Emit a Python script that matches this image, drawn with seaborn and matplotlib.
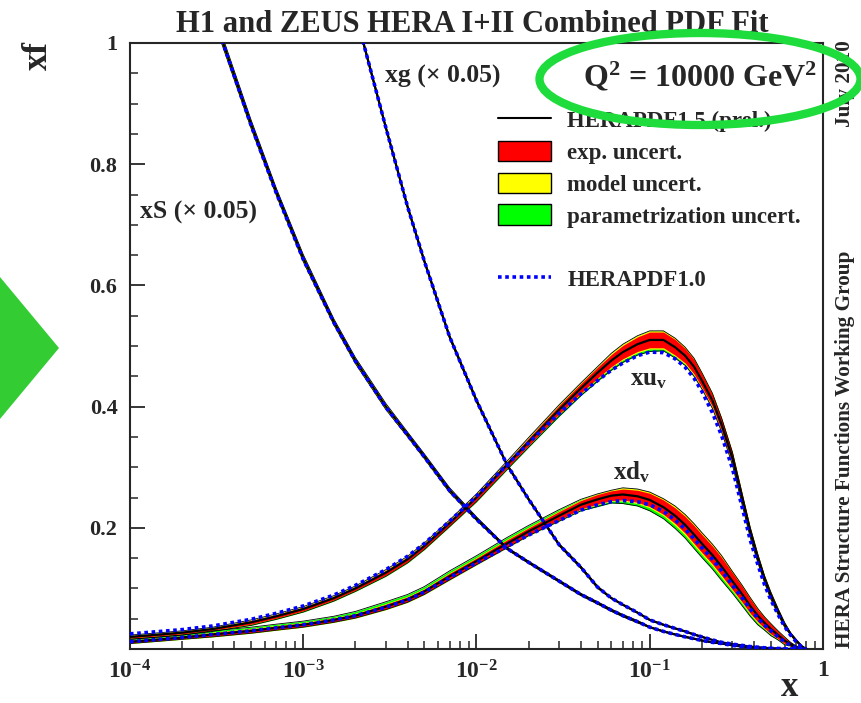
import numpy as np
import matplotlib
matplotlib.use('Agg')
import matplotlib.pyplot as plt
import seaborn as sns
from matplotlib.lines import Line2D
from matplotlib.patches import Patch, Ellipse, Polygon
from matplotlib.ticker import FixedLocator, FixedFormatter, LogLocator, NullFormatter, MultipleLocator

# x grid shared by all curves (42 points)
x_grid = [1e-4, 1.5e-4, 2e-4, 3e-4, 5e-4, 7e-4,
          1e-3, 1.5e-3, 2e-3, 3e-3, 4e-3, 5e-3, 7e-3,
          0.01, 0.015, 0.02, 0.03, 0.04, 0.05, 0.06, 0.07, 0.085,
          0.1, 0.12, 0.14, 0.16, 0.18, 0.2, 0.23, 0.26,
          0.3, 0.34, 0.38, 0.42, 0.46, 0.5, 0.55, 0.6, 0.65, 0.7, 0.75, 0.8]

# HERAPDF1.5 (prel.) central values
xuv = [0.020, 0.024, 0.027, 0.033, 0.044, 0.054,
       0.066, 0.084, 0.100, 0.126, 0.148, 0.170, 0.208,
       0.250, 0.304, 0.342, 0.395, 0.430, 0.456, 0.476, 0.490, 0.503,
       0.510, 0.510, 0.498, 0.484, 0.466, 0.443, 0.410, 0.370,
       0.315, 0.250, 0.193, 0.150, 0.115, 0.088, 0.062, 0.040, 0.025, 0.014, 0.005, 0.0]
xdv = [0.012, 0.016, 0.019, 0.024, 0.030, 0.035,
       0.040, 0.048, 0.055, 0.070, 0.082, 0.095, 0.120,
       0.145, 0.174, 0.194, 0.220, 0.238, 0.247, 0.253, 0.255, 0.252,
       0.246, 0.234, 0.220, 0.205, 0.189, 0.174, 0.155, 0.136,
       0.112, 0.091, 0.071, 0.055, 0.043, 0.033, 0.023, 0.014, 0.008, 0.003, 0.001, 0.0]
xS = [1.60, 1.38, 1.25, 1.05, 0.866, 0.754,
      0.645, 0.540, 0.476, 0.400, 0.354, 0.318, 0.262,
      0.215, 0.166, 0.143, 0.112, 0.090, 0.076, 0.064, 0.055, 0.045,
      0.036, 0.029, 0.024, 0.020, 0.017, 0.014, 0.011, 0.009,
      0.006, 0.004, 0.003, 0.002, 0.001, 0.001, 0.0, 0.0, 0.0, 0.0, 0.0, 0.0]
xg = [2.60, 2.40, 2.25, 2.05, 1.80, 1.60,
      1.42, 1.19, 1.05, 0.860, 0.730, 0.640, 0.515,
      0.410, 0.304, 0.247, 0.172, 0.135, 0.102, 0.084, 0.073, 0.060,
      0.048, 0.040, 0.034, 0.029, 0.024, 0.020, 0.015, 0.011,
      0.008, 0.006, 0.004, 0.003, 0.002, 0.001, 0.001, 0.0, 0.0, 0.0, 0.0, 0.0]

# HERAPDF1.0 central values
xuv_10 = [0.025, 0.029, 0.032, 0.038, 0.049, 0.059,
          0.071, 0.089, 0.105, 0.131, 0.153, 0.174, 0.211,
          0.252, 0.304, 0.340, 0.389, 0.421, 0.443, 0.460, 0.472, 0.484,
          0.490, 0.489, 0.479, 0.465, 0.447, 0.425, 0.390, 0.352,
          0.298, 0.236, 0.180, 0.140, 0.106, 0.081, 0.057, 0.037, 0.023, 0.012, 0.004, 0.0]
xdv_10 = [0.012, 0.016, 0.019, 0.024, 0.030, 0.035,
          0.040, 0.048, 0.055, 0.069, 0.081, 0.094, 0.118,
          0.142, 0.169, 0.188, 0.212, 0.229, 0.238, 0.243, 0.245, 0.243,
          0.238, 0.227, 0.213, 0.198, 0.182, 0.167, 0.148, 0.129,
          0.105, 0.085, 0.066, 0.051, 0.039, 0.030, 0.020, 0.012, 0.006, 0.002, 0.0, 0.0]
xS_10 = [1.60, 1.38, 1.25, 1.05, 0.864, 0.752,
         0.643, 0.539, 0.475, 0.399, 0.353, 0.317, 0.261,
         0.214, 0.166, 0.143, 0.112, 0.090, 0.076, 0.064, 0.055, 0.045,
         0.036, 0.029, 0.024, 0.020, 0.017, 0.014, 0.011, 0.009,
         0.006, 0.004, 0.003, 0.002, 0.001, 0.001, 0.0, 0.0, 0.0, 0.0, 0.0, 0.0]
xg_10 = [2.60, 2.40, 2.25, 2.05, 1.80, 1.60,
         1.42, 1.19, 1.05, 0.860, 0.730, 0.640, 0.515,
         0.410, 0.304, 0.247, 0.172, 0.135, 0.102, 0.084, 0.073, 0.060,
         0.048, 0.040, 0.034, 0.029, 0.024, 0.020, 0.015, 0.011,
         0.008, 0.006, 0.004, 0.003, 0.002, 0.001, 0.001, 0.0, 0.0, 0.0, 0.0, 0.0]

# uncertainty half widths: experimental, model, parametrization (up / down)
xuv_exp = [0.002, 0.002, 0.002, 0.002, 0.003, 0.003,
           0.003, 0.003, 0.003, 0.004, 0.004, 0.004, 0.004,
           0.005, 0.005, 0.006, 0.007, 0.008, 0.009, 0.010, 0.011, 0.012,
           0.013, 0.013, 0.013, 0.012, 0.012, 0.011, 0.010, 0.010,
           0.009, 0.008, 0.007, 0.006, 0.005, 0.005, 0.004, 0.003, 0.002, 0.002, 0.001, 0.0]
xuv_mod = [0.001, 0.001, 0.001, 0.001, 0.001, 0.001,
           0.001, 0.001, 0.001, 0.001, 0.001, 0.001, 0.001,
           0.001, 0.001, 0.001, 0.001, 0.001, 0.001, 0.002, 0.002, 0.002,
           0.002, 0.002, 0.002, 0.002, 0.002, 0.002, 0.002, 0.001,
           0.001, 0.001, 0.001, 0.001, 0.001, 0.001, 0.001, 0.001, 0.0, 0.0, 0.0, 0.0]
xuv_pup = [0.0] * len(x_grid)
xuv_pdn = [0.001, 0.001, 0.001, 0.001, 0.001, 0.001,
           0.001, 0.001, 0.001, 0.001, 0.001, 0.001, 0.001,
           0.001, 0.002, 0.002, 0.003, 0.003, 0.004, 0.004, 0.004, 0.004,
           0.004, 0.003, 0.003, 0.002, 0.002, 0.001, 0.001, 0.001,
           0.001, 0.001, 0.001, 0.0, 0.0, 0.0, 0.0, 0.0, 0.0, 0.0, 0.0, 0.0]

xdv_exp = [0.002, 0.002, 0.002, 0.003, 0.003, 0.003,
           0.003, 0.003, 0.003, 0.004, 0.004, 0.004, 0.005,
           0.005, 0.006, 0.006, 0.007, 0.007, 0.008, 0.008, 0.009, 0.010,
           0.011, 0.012, 0.013, 0.014, 0.015, 0.015, 0.015, 0.015,
           0.014, 0.013, 0.012, 0.010, 0.009, 0.008, 0.006, 0.005, 0.003, 0.002, 0.001, 0.0]
xdv_mod = [0.001, 0.001, 0.001, 0.001, 0.001, 0.001,
           0.001, 0.001, 0.001, 0.001, 0.001, 0.001, 0.001,
           0.001, 0.001, 0.001, 0.001, 0.001, 0.001, 0.001, 0.002, 0.002,
           0.002, 0.002, 0.003, 0.003, 0.003, 0.003, 0.003, 0.003,
           0.002, 0.002, 0.002, 0.002, 0.001, 0.001, 0.001, 0.001, 0.0, 0.0, 0.0, 0.0]
xdv_pup = [0.001, 0.001, 0.001, 0.002, 0.002, 0.002,
           0.002, 0.002, 0.003, 0.003, 0.003, 0.003, 0.003,
           0.003, 0.003, 0.003, 0.002, 0.001, 0.0, 0.0, 0.0, 0.0,
           0.0, 0.0, 0.0, 0.0, 0.0, 0.0, 0.0, 0.0,
           0.0, 0.0, 0.0, 0.0, 0.0, 0.0, 0.0, 0.0, 0.0, 0.0, 0.0, 0.0]
xdv_pdn = [0.0, 0.0, 0.0, 0.0, 0.0, 0.0,
           0.0, 0.0, 0.0, 0.0, 0.0, 0.0, 0.0,
           0.0, 0.0, 0.0, 0.001, 0.002, 0.003, 0.003, 0.004, 0.004,
           0.005, 0.005, 0.005, 0.005, 0.005, 0.005, 0.005, 0.005,
           0.004, 0.004, 0.003, 0.003, 0.002, 0.002, 0.001, 0.001, 0.0, 0.0, 0.0, 0.0]

xS_exp = [0.003, 0.003, 0.003, 0.003, 0.003, 0.002,
          0.002, 0.002, 0.002, 0.002, 0.002, 0.002, 0.002,
          0.001, 0.001, 0.001, 0.001, 0.001, 0.001, 0.001, 0.001, 0.001,
          0.001, 0.001, 0.001, 0.001, 0.001, 0.001, 0.001, 0.001,
          0.0, 0.0, 0.0, 0.0, 0.0, 0.0, 0.0, 0.0, 0.0, 0.0, 0.0, 0.0]
xS_mod = [0.006, 0.006, 0.005, 0.005, 0.004, 0.004,
          0.004, 0.003, 0.003, 0.003, 0.002, 0.002, 0.002,
          0.002, 0.001, 0.001, 0.001, 0.001, 0.001, 0.001, 0.001, 0.001,
          0.0, 0.0, 0.0, 0.0, 0.0, 0.0, 0.0, 0.0,
          0.0, 0.0, 0.0, 0.0, 0.0, 0.0, 0.0, 0.0, 0.0, 0.0, 0.0, 0.0]
xg_exp = [0.004, 0.004, 0.004, 0.004, 0.004, 0.004,
          0.003, 0.003, 0.003, 0.002, 0.002, 0.002, 0.002,
          0.002, 0.001, 0.001, 0.001, 0.001, 0.001, 0.001, 0.001, 0.001,
          0.001, 0.001, 0.001, 0.001, 0.001, 0.001, 0.0, 0.0,
          0.0, 0.0, 0.0, 0.0, 0.0, 0.0, 0.0, 0.0, 0.0, 0.0, 0.0, 0.0]
xg_mod = [0.002, 0.002, 0.002, 0.002, 0.002, 0.002,
          0.001, 0.001, 0.001, 0.001, 0.001, 0.001, 0.001,
          0.001, 0.001, 0.001, 0.001, 0.001, 0.001, 0.0, 0.0, 0.0,
          0.0, 0.0, 0.0, 0.0, 0.0, 0.0, 0.0, 0.0,
          0.0, 0.0, 0.0, 0.0, 0.0, 0.0, 0.0, 0.0, 0.0, 0.0, 0.0, 0.0]
no_par = [0.0] * len(x_grid)

x_ticks = [1e-4, 1e-3, 1e-2, 1e-1, 1]
x_ticklabels = [r'$10^{-4}$', r'$10^{-3}$', r'$10^{-2}$', r'$10^{-1}$', '1']
y_ticks = [0.2, 0.4, 0.6, 0.8, 1.0]
y_ticklabels = ['0.2', '0.4', '0.6', '0.8', '1']

sns.set_style('ticks')
plt.rcParams['font.family'] = ['Liberation Serif', 'DejaVu Serif']
plt.rcParams['font.weight'] = 'bold'
plt.rcParams['mathtext.fontset'] = 'custom'
plt.rcParams['mathtext.rm'] = 'Liberation Serif:bold'
plt.rcParams['mathtext.it'] = 'Liberation Serif:bold'
plt.rcParams['mathtext.bf'] = 'Liberation Serif:bold'
plt.rcParams['mathtext.default'] = 'rm'

fig = plt.figure(figsize=(8.62, 7.03), dpi=100)
ax = fig.add_axes([130 / 862, 1 - 649 / 703, 693 / 862, 606 / 703])

curves = [
    (xS, xS_exp, xS_mod, no_par, no_par, xS_10),
    (xg, xg_exp, xg_mod, no_par, no_par, xg_10),
    (xdv, xdv_exp, xdv_mod, xdv_pup, xdv_pdn, xdv_10),
    (xuv, xuv_exp, xuv_mod, xuv_pup, xuv_pdn, xuv_10),
]

xs = np.array(x_grid)
for mid, e, m, pu, pd, old in curves:
    mid, e, m, pu, pd = map(np.array, (mid, e, m, pu, pd))
    lo_r, hi_r = mid - e, mid + e
    lo_y, hi_y = lo_r - m, hi_r + m
    lo_g, hi_g = lo_y - pd, hi_y + pu
    ax.fill_between(xs, lo_g, hi_g, color='#00ff00', lw=0, zorder=1)
    ax.fill_between(xs, lo_y, hi_y, color='#ffff00', lw=0, zorder=1)
    ax.fill_between(xs, lo_r, hi_r, color='#ff0000', lw=0, zorder=1)
    sns.lineplot(x=xs, y=lo_g, color='black', lw=0.6, ax=ax, zorder=2)
    sns.lineplot(x=xs, y=hi_g, color='black', lw=0.6, ax=ax, zorder=2)

for mid, e, m, pu, pd, old in curves:
    sns.lineplot(x=xs, y=mid, color='black', lw=1.6, ax=ax, zorder=3)
for mid, e, m, pu, pd, old in curves:
    ax.plot(xs, old, color='#0000ff', lw=2.6, ls=(0, (1, 1)), zorder=4)

ax.set_xscale('log')
ax.set_xlim(1e-4, 1)
ax.set_ylim(0, 1)
ax.xaxis.set_major_locator(FixedLocator(x_ticks))
ax.xaxis.set_major_formatter(FixedFormatter(x_ticklabels))
ax.xaxis.set_minor_locator(LogLocator(base=10, subs=range(2, 10)))
ax.xaxis.set_minor_formatter(NullFormatter())
ax.yaxis.set_major_locator(FixedLocator(y_ticks))
ax.yaxis.set_major_formatter(FixedFormatter(y_ticklabels))
ax.yaxis.set_minor_locator(MultipleLocator(0.05))
ax.tick_params(which='major', direction='in', length=11, width=1.3, pad=9)
ax.tick_params(which='minor', direction='in', length=6, width=1.1)
ax.tick_params(axis='x', labelsize=17, pad=8)
ax.tick_params(axis='y', labelsize=16)
for sp in ax.spines.values():
    sp.set_linewidth(1.5)
ax.set_xlabel('')
ax.set_ylabel('')

# curve labels
ax.text(1.14e-4, 0.72, 'xS (\u00d7 0.05)', fontsize=18.5, va='center', ha='left')
ax.text(2.96e-3, 0.945, 'xg (\u00d7 0.05)', fontsize=18.5, va='center', ha='left')
ax.text(0.077, 0.444, r'$xu_v$', fontsize=18, va='center', ha='left')
ax.text(0.061, 0.292, r'$xd_v$', fontsize=18, va='center', ha='left')

# legend
handles = [Line2D([], [], color='black', lw=1.5),
           Patch(fc='#ff0000', ec='black', lw=1),
           Patch(fc='#ffff00', ec='black', lw=1),
           Patch(fc='#00ff00', ec='black', lw=1),
           Line2D([], [], color='none'),
           Line2D([], [], color='#0000ff', lw=2.6, ls=(0, (1, 1)))]
labels = ['HERAPDF1.5 (prel.)', 'exp. uncert.', 'model uncert.', 'parametrization uncert.', '', 'HERAPDF1.0']
ax.legend(handles, labels, loc='upper left', bbox_to_anchor=(0.531, 0.891), frameon=False,
          fontsize=16.5, handlelength=2.3, handleheight=1.0, handletextpad=0.72,
          labelspacing=0.38, borderpad=0, borderaxespad=0)

ax.text(0.8225, 0.944, 'Q$^2$ = 10000 GeV$^2$', transform=ax.transAxes, fontsize=23,
        ha='center', va='center')

# figure texts
fig.text(472 / 862, 1 - 24 / 703, 'H1 and ZEUS HERA I+II Combined PDF Fit', fontsize=22,
         ha='center', va='center')
fig.text(38 / 862, 1 - 55 / 703, 'xf', fontsize=25, rotation=90, ha='center', va='center')
fig.text(790 / 862, 1 - 688 / 703, 'x', fontsize=25, ha='center', va='center')
fig.text(845 / 862, 1 - 648 / 703, 'HERA Structure Functions Working Group', fontsize=15.3,
         rotation=90, ha='center', va='bottom')
fig.text(845 / 862, 1 - 127 / 703, 'July 2010', fontsize=15.3, rotation=90, ha='center', va='bottom')

# highlight marks
fig.add_artist(Ellipse((700 / 862, 1 - 79 / 703), 321 / 862, 92 / 703, transform=fig.transFigure,
                       fill=False, ec='#1edc3c', lw=6, zorder=10))
fig.add_artist(Polygon([(-10 / 862, 1 - 265 / 703), (59 / 862, 1 - 348 / 703), (-10 / 862, 1 - 431 / 703)],
                       closed=True, transform=fig.transFigure, fc='#33cc33', ec='none', zorder=10))

fig.savefig('out.png', dpi=100)
